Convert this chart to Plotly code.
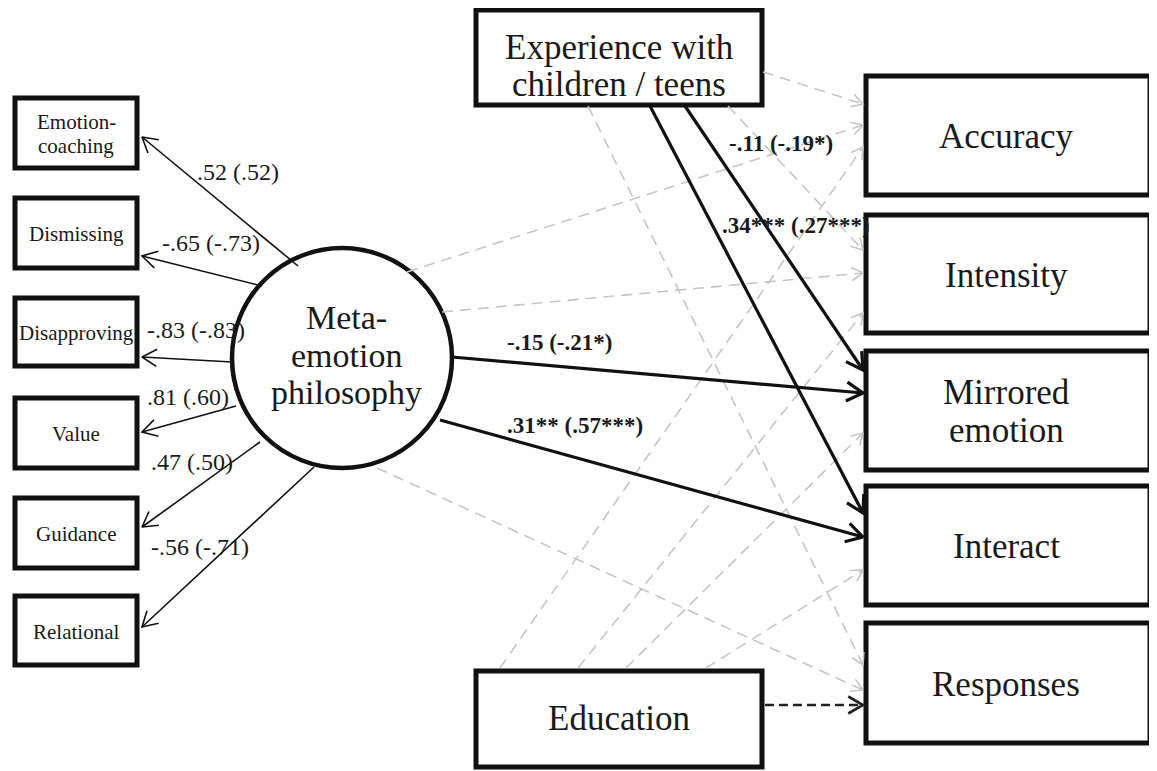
import math
import plotly.graph_objects as go

W, H = 1157, 771
PAGE_MARGIN = 8  # default body margin of the html page
FONT = "Liberation Serif, DejaVu Serif, serif"

# ---------------- nodes ----------------
indicator_labels = [["Emotion-", "coaching"], ["Dismissing"], ["Disapproving"], ["Value"], ["Guidance"], ["Relational"]]
indicator_top = [98, 198, 298, 398, 498, 596]
indicator_bottom = [168, 268, 366, 468, 568, 665]
indicator_x = [15, 137]

outcome_labels = [["Accuracy"], ["Intensity"], ["Mirrored", "emotion"], ["Interact"], ["Responses"]]
outcome_top = [76, 215, 351, 486, 623]
outcome_bottom = [195, 333, 470, 605, 743]
outcome_x = [866, 1150]

predictor_labels = [["Experience with", "children / teens"], ["Education"]]
predictor_top = [10, 671]
predictor_bottom = [105, 767]
predictor_text_y = [66, 718]
predictor_x = [476, 762]

latent_label = ["Meta-", "emotion", "philosophy"]
latent_box = [232, 248, 452, 468]  # x0, y0, x1, y1

# ---------------- loadings (latent -> indicators) ----------------
loading_text = [".52 (.52)", "-.65 (-.73)", "-.83 (-.83)", ".81 (.60)", ".47 (.50)", "-.56 (-.71)"]
loading_from_x = [298, 262, 232, 236, 260, 314]
loading_from_y = [266, 286, 362, 406, 442, 467]
loading_to_y = [137, 256, 357, 432, 527, 627]
loading_label_x = [238, 211, 196, 188, 192, 200]
loading_label_y = [172, 243, 330, 397, 462, 547]

# ---------------- structural paths ----------------
path_from_x = [763, 728, 588, 685, 650, 407, 442, 452, 440, 377, 500, 578, 626, 706, 765]
path_from_y = [72, 106, 106, 106, 106, 272, 312, 357, 420, 468, 668, 668, 668, 668, 705]
path_to_y = [104, 250, 665, 370, 513, 125, 273, 393, 537, 690, 147, 313, 433, 570, 705]
path_style = ["ns", "ns", "ns", "sig", "sig", "ns", "ns", "sig", "sig", "ns", "ns", "ns", "ns", "ns", "trend"]
path_tip_x = 863

coef_text = ["<b>-.11 (-.19*)</b>", "<b>.34*** (.27***)</b>", "<b>-.15 (-.21*)</b>", "<b>.31** (.57***)</b>"]
coef_x = [781, 796, 559, 575]
coef_y = [143, 225, 342, 425]

styles = {
    "ns": dict(color="#c6c6c6", width=1.6, dash="11px,7px", head=13, head_w=1.6),
    "sig": dict(color="#111111", width=3.2, dash="solid", head=19, head_w=3.2),
    "trend": dict(color="#222222", width=2.6, dash="9px,5px", head=17, head_w=2.6),
    "load": dict(color="#111111", width=1.6, dash="solid", head=17, head_w=1.6),
}


def chevron(x0, y0, x1, y1, length, ang=math.radians(30)):
    dx, dy = x1 - x0, y1 - y0
    n = math.hypot(dx, dy)
    ux, uy = dx / n, dy / n
    pts = []
    for s in (1, -1):
        c, sn = math.cos(s * ang), math.sin(s * ang)
        rx, ry = ux * c - uy * sn, ux * sn + uy * c
        pts.append((x1 - length * rx, y1 - length * ry))
    return [pts[0][0], x1, pts[1][0], None], [pts[0][1], y1, pts[1][1], None]


fig = go.Figure()

groups = {k: ([], [], [], []) for k in styles}
for fx, fy, ty, st in zip(path_from_x, path_from_y, path_to_y, path_style):
    lx, ly, hx, hy = groups[st]
    lx += [fx, path_tip_x, None]
    ly += [fy, ty, None]
    cx, cy = chevron(fx, fy, path_tip_x, ty, styles[st]["head"])
    hx += cx
    hy += cy
for fx, fy, ty in zip(loading_from_x, loading_from_y, loading_to_y):
    lx, ly, hx, hy = groups["load"]
    tip = indicator_x[1] + 5
    lx += [fx, tip, None]
    ly += [fy, ty, None]
    cx, cy = chevron(fx, fy, tip, ty, styles["load"]["head"])
    hx += cx
    hy += cy

for st in ["ns", "trend", "load", "sig"]:
    lx, ly, hx, hy = groups[st]
    s = styles[st]
    fig.add_trace(go.Scatter(x=lx, y=ly, mode="lines", hoverinfo="skip",
                             line=dict(color=s["color"], width=s["width"], dash=s["dash"])))
    fig.add_trace(go.Scatter(x=hx, y=hy, mode="lines", hoverinfo="skip",
                             line=dict(color=s["color"], width=s["head_w"], dash="solid")))

shapes = []
annotations = []


def add_text(lines, cx, cy, size, spacing=1.13):
    n = len(lines)
    step = size * spacing
    for i, t in enumerate(lines):
        y = cy + (i - (n - 1) / 2) * step
        annotations.append(dict(x=cx, y=y, xref="x", yref="y", text=t, showarrow=False,
                                font=dict(family=FONT, size=size, color="#1a1a1a"),
                                xanchor="center", yanchor="middle"))


def add_box(x0, y0, x1, y1, width=5):
    shapes.append(dict(type="rect", x0=x0, y0=y0, x1=x1, y1=y1, xref="x", yref="y",
                       line=dict(color="#111111", width=width), fillcolor="white", layer="below"))


for lab, t, b in zip(indicator_labels, indicator_top, indicator_bottom):
    add_box(indicator_x[0], t, indicator_x[1], b, 5)
    add_text(lab, (indicator_x[0] + indicator_x[1]) / 2, (t + b) / 2 + 1, 21, spacing=1.1)

for lab, t, b in zip(outcome_labels, outcome_top, outcome_bottom):
    add_box(outcome_x[0], t, outcome_x[1], b, 5)
    add_text(lab, (outcome_x[0] + outcome_x[1]) / 2 - 2, (t + b) / 2 + 1, 35, spacing=1.08)

for lab, t, b, ty in zip(predictor_labels, predictor_top, predictor_bottom, predictor_text_y):
    add_box(predictor_x[0], t, predictor_x[1], b, 5)
    add_text(lab, (predictor_x[0] + predictor_x[1]) / 2, ty, 35, spacing=1.08)

shapes.append(dict(type="circle", x0=latent_box[0], y0=latent_box[1], x1=latent_box[2], y1=latent_box[3],
                   xref="x", yref="y", line=dict(color="#111111", width=4.5), fillcolor="white", layer="below"))
add_text(latent_label, (latent_box[0] + latent_box[2]) / 2 + 4, (latent_box[1] + latent_box[3]) / 2 - 3, 34, spacing=1.1)

for t, x, y in zip(loading_text, loading_label_x, loading_label_y):
    add_text([t], x, y, 24)

for t, x, y in zip(coef_text, coef_x, coef_y):
    add_text([t], x, y, 23)

fig.update_layout(
    width=W - PAGE_MARGIN, height=H - PAGE_MARGIN,
    margin=dict(l=0, r=0, t=0, b=0),
    paper_bgcolor="white", plot_bgcolor="white",
    showlegend=False,
    shapes=shapes, annotations=annotations,
    xaxis=dict(range=[PAGE_MARGIN, W], visible=False, fixedrange=True),
    yaxis=dict(range=[H, PAGE_MARGIN], visible=False, fixedrange=True),
)

fig.write_html("out.html")
